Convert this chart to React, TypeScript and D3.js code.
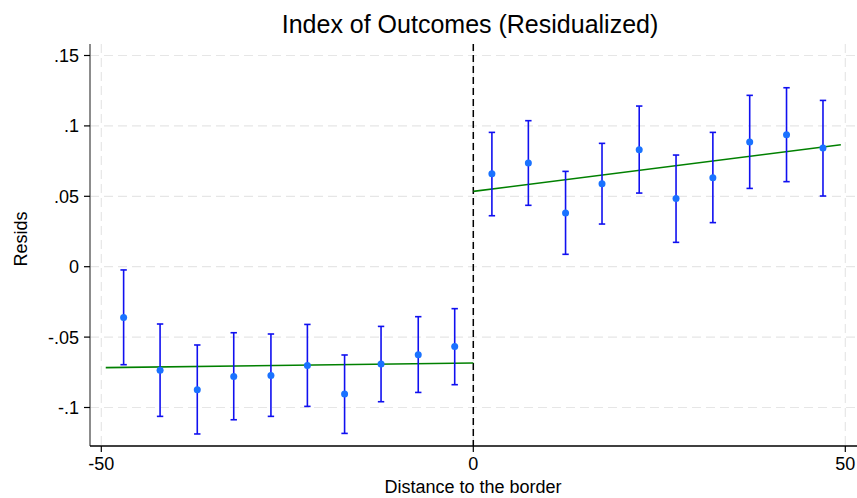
import React from "react";
import * as d3 from "d3";

// Binned residual means with 95% confidence bounds
const binX = [-47.0, -42.1, -37.1, -32.2, -27.2, -22.3, -17.3, -12.4, -7.4, -2.5,
  2.5, 7.4, 12.4, 17.3, 22.3, 27.25, 32.2, 37.15, 42.1, 47.0];
const binMean = [-0.036, -0.0736, -0.0874, -0.0779, -0.0772, -0.0701, -0.0904, -0.0691, -0.0625, -0.0566,
  0.0661, 0.0736, 0.0381, 0.0589, 0.0831, 0.0485, 0.0632, 0.0886, 0.0937, 0.0843];
const ciHigh = [-0.0023, -0.0407, -0.0556, -0.0469, -0.0478, -0.041, -0.0627, -0.0424, -0.0355, -0.0298,
  0.0954, 0.1037, 0.0677, 0.0876, 0.1141, 0.0793, 0.0954, 0.1217, 0.1271, 0.1181];
const ciLow = [-0.0696, -0.1063, -0.1188, -0.1087, -0.1063, -0.0992, -0.1184, -0.0959, -0.0893, -0.0838,
  0.0362, 0.0436, 0.0088, 0.0303, 0.0523, 0.0173, 0.0313, 0.0556, 0.0604, 0.0502];

// Linear fits on each side of the border: [x, fitted value]
const fitLeft: [number, number][] = [[-49.4, -0.0717], [0, -0.0684]];
const fitRight: [number, number][] = [[0, 0.0535], [49.4, 0.0866]];

const xTicks = [-50, 0, 50];
const yTicks = [0.15, 0.1, 0.05, 0, -0.05, -0.1];
const yTickLabels = [".15", ".1", ".05", "0", "-.05", "-.1"];

const W = 857;
const H = 498;
const plotLeft = 90;
const plotRight = 857;
const plotTop = 44;
const plotBottom = 446;

const font = "'Liberation Sans', Arial, sans-serif";

export default function App() {
  const x = d3.scaleLinear().domain([-50, 50]).range([101.3, 845.3]);
  const y = d3.scaleLinear().domain([-0.1, 0.15]).range([407.5, 55.5]);
  const line = d3.line<[number, number]>().x((d) => x(d[0])).y((d) => y(d[1]));

  return (
    <svg
      width={W}
      height={H}
      style={{ position: "absolute", left: 0, top: 0, background: "#fff" }}
      fontFamily={font}
    >
      <rect x={0} y={0} width={W} height={H} fill="#fff" />
      {/* grid */}
      {yTicks.map((t) => (
        <line key={"gy" + t} x1={plotLeft} x2={plotRight} y1={y(t)} y2={y(t)}
          stroke="#e6e6e6" strokeWidth={1.2} strokeDasharray="9,5" />
      ))}
      {xTicks.map((t) => (
        <line key={"gx" + t} x1={x(t)} x2={x(t)} y1={plotTop} y2={plotBottom}
          stroke="#e6e6e6" strokeWidth={1.2} strokeDasharray="9,5" />
      ))}
      {/* border cutoff */}
      <line x1={x(0)} x2={x(0)} y1={plotTop} y2={plotBottom}
        stroke="#000" strokeWidth={1.5} strokeDasharray="7,4" />
      {/* fit lines */}
      <path d={line(fitLeft) || ""} fill="none" stroke="#008000" strokeWidth={1.6} />
      <path d={line(fitRight) || ""} fill="none" stroke="#008000" strokeWidth={1.6} />
      {/* error bars */}
      {binX.map((bx, i) => (
        <g key={"e" + i} stroke="#1010f0" strokeWidth={1.6}>
          <line x1={x(bx)} x2={x(bx)} y1={y(ciLow[i])} y2={y(ciHigh[i])} />
          <line x1={x(bx) - 3.2} x2={x(bx) + 3.2} y1={y(ciLow[i])} y2={y(ciLow[i])} />
          <line x1={x(bx) - 3.2} x2={x(bx) + 3.2} y1={y(ciHigh[i])} y2={y(ciHigh[i])} />
        </g>
      ))}
      {/* bin means */}
      {binX.map((bx, i) => (
        <circle key={"p" + i} cx={x(bx)} cy={y(binMean[i])} r={3.5} fill="#1a72ff" />
      ))}
      {/* axes */}
      <line x1={plotLeft} x2={plotLeft} y1={plotTop} y2={plotBottom} stroke="#666" strokeWidth={1.5} />
      <line x1={plotLeft} x2={plotRight} y1={plotBottom} y2={plotBottom} stroke="#000" strokeWidth={1.3} />
      {yTicks.map((t, i) => (
        <g key={"yt" + t}>
          <line x1={plotLeft - 6} x2={plotLeft} y1={y(t)} y2={y(t)} stroke="#000" strokeWidth={1.2} />
          <text x={plotLeft - 11} y={y(t)} dy="0.36em" textAnchor="end" fontSize={18} fill="#000">
            {yTickLabels[i]}
          </text>
        </g>
      ))}
      {xTicks.map((t) => (
        <g key={"xt" + t}>
          <line x1={x(t)} x2={x(t)} y1={plotBottom} y2={plotBottom + 6} stroke="#000" strokeWidth={1.2} />
          <text x={x(t)} y={470} textAnchor="middle" fontSize={18} fill="#000">
            {t}
          </text>
        </g>
      ))}
      {/* labels */}
      <text x={470} y={33} textAnchor="middle" fontSize={25} fill="#000">
        Index of Outcomes (Residualized)
      </text>
      <text x={473} y={493} textAnchor="middle" fontSize={18} fill="#000">
        Distance to the border
      </text>
      <text transform="translate(27,239) rotate(-90)" textAnchor="middle" fontSize={18} fill="#000">
        Resids
      </text>
    </svg>
  );
}
